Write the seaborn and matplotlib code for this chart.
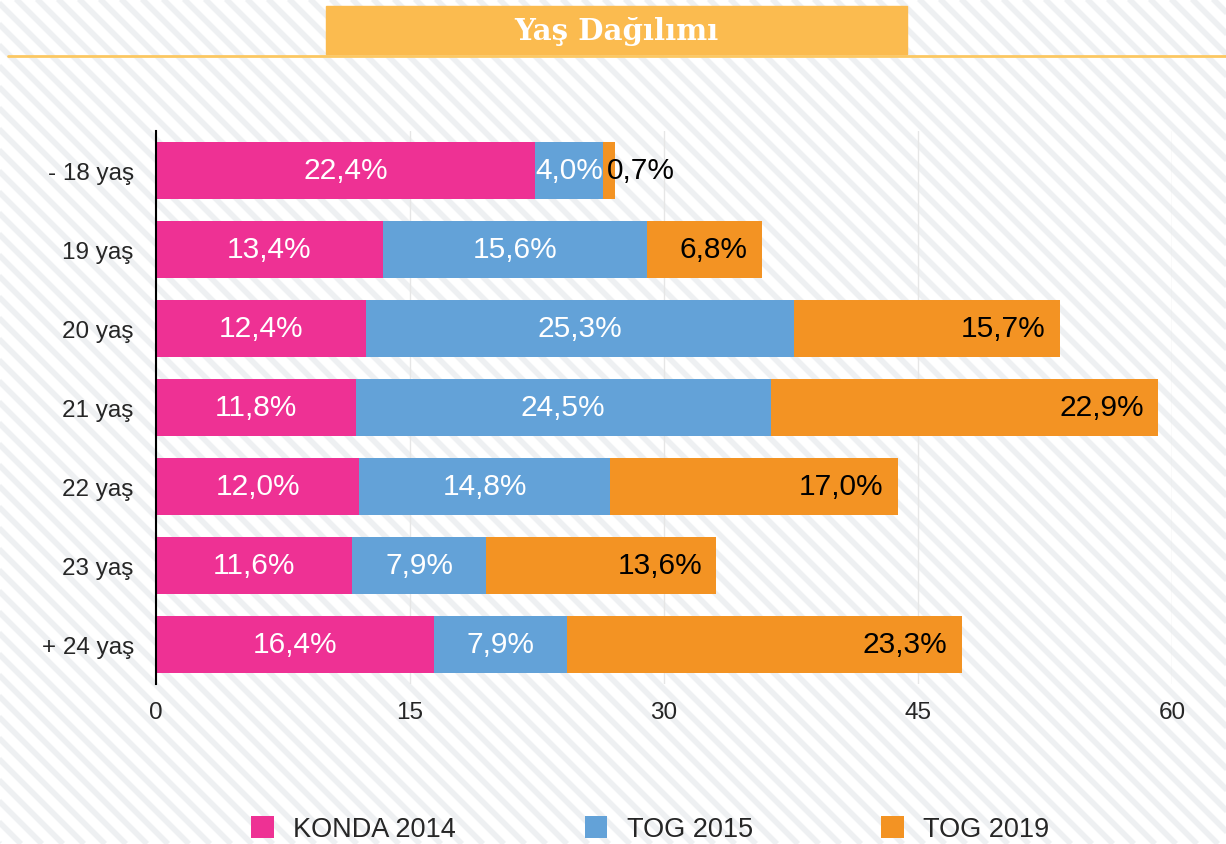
import matplotlib
matplotlib.use("Agg")
import matplotlib.pyplot as plt
from matplotlib.patches import Rectangle, Patch
from matplotlib.lines import Line2D
import pandas as pd
import seaborn as sns

ages = ["- 18 yaş", "19 yaş", "20 yaş", "21 yaş", "22 yaş", "23 yaş", "+ 24 yaş"]
konda_2014 = [22.4, 13.4, 12.4, 11.8, 12.0, 11.6, 16.4]
tog_2015 = [4.0, 15.6, 25.3, 24.5, 14.8, 7.9, 7.9]
tog_2019 = [0.7, 6.8, 15.7, 22.9, 17.0, 13.6, 23.3]
series_names = ["KONDA 2014", "TOG 2015", "TOG 2019"]
x_ticks = [0, 15, 30, 45, 60]

colors = {"KONDA 2014": "#ee3194", "TOG 2015": "#63a2d8", "TOG 2019": "#f39323"}

sns.set_style("white")
plt.rcParams["font.family"] = ["Liberation Sans", "DejaVu Sans"]

W, H = 1226, 845
fig = plt.figure(figsize=(W / 100, H / 100), dpi=100)

# striped background
bg = fig.add_axes([0, 0, 1, 1], zorder=-10)
bg.set_xlim(0, W)
bg.set_ylim(0, H)
bg.axis("off")
step = 21
x0 = -H
while x0 < W + H:
    bg.add_line(Line2D([x0, x0 + H], [H, 0], color="#eef0f2", lw=4.1,
                       solid_capstyle="butt"))
    x0 += step

# title band
bg.add_line(Line2D([8, W], [H - 57, H - 57], color="#fcc862", lw=2))
bg.add_patch(Rectangle((326, H - 55), 581, 48, color="#fbbb4f", zorder=3))
bg.text(616, H - 32, "Yaş Dağılımı", ha="center", va="center", color="white",
        fontsize=21, fontweight="bold", family=["DejaVu Serif"], zorder=4)

df = pd.DataFrame({"age": ages, "KONDA 2014": konda_2014,
                   "TOG 2015": tog_2015, "TOG 2019": tog_2019})
df["c1"] = df["KONDA 2014"]
df["c2"] = df["c1"] + df["TOG 2015"]
df["c3"] = df["c2"] + df["TOG 2019"]

ax = fig.add_axes([156 / W, 1 - 685 / H, (1172 - 156) / W, (685 - 132) / H])
ax.patch.set_alpha(0)
for col, name in [("c3", "TOG 2019"), ("c2", "TOG 2015"), ("c1", "KONDA 2014")]:
    sns.barplot(data=df, x=col, y="age", orient="h", color=colors[name],
                width=0.73, saturation=1, linewidth=0, ax=ax, zorder=3)

for i in range(len(ages)):
    p, b, o = konda_2014[i], tog_2015[i], tog_2019[i]
    ax.text(p / 2, i, f"{p:.1f}%".replace(".", ","), ha="center", va="center",
            color="white", fontsize=21.5, zorder=5)
    ax.text(p + b / 2, i, f"{b:.1f}%".replace(".", ","), ha="center", va="center",
            color="white", fontsize=21.5, zorder=5)
    lab = f"{o:.1f}%".replace(".", ",")
    if o < 3:
        ax.text(p + b + 0.25, i, lab, ha="left", va="center", color="black",
                fontsize=21.5, zorder=5)
    else:
        ax.text(p + b + o - 0.85, i, lab, ha="right", va="center", color="black",
                fontsize=21.5, zorder=5)

ax.set_xlim(0, 60)
ax.set_ylim(6.5, -0.5)
ax.set_xticks(x_ticks)
ax.set_xlabel("")
ax.set_ylabel("")
ax.tick_params(axis="both", length=0, labelsize=17.5)
ax.tick_params(axis="y", pad=16)
ax.tick_params(axis="x", pad=12)
ax.grid(axis="x", color="#e6e6e6", lw=1, zorder=0)
ax.set_axisbelow(True)
for s in ["top", "right", "bottom"]:
    ax.spines[s].set_visible(False)
ax.spines["left"].set_color("black")
ax.spines["left"].set_linewidth(1.5)
ax.spines["left"].set_zorder(6)

handles = [Patch(facecolor=colors[n], edgecolor="none") for n in series_names]
fig.legend(handles, series_names, loc="center", bbox_to_anchor=(0.5305, 1 - 830 / H),
           ncol=3, frameon=False, fontsize=19.5, handlelength=0.83, handleheight=0.9,
           handletextpad=0.72, columnspacing=4.75)

fig.savefig("out.png", dpi=100)
